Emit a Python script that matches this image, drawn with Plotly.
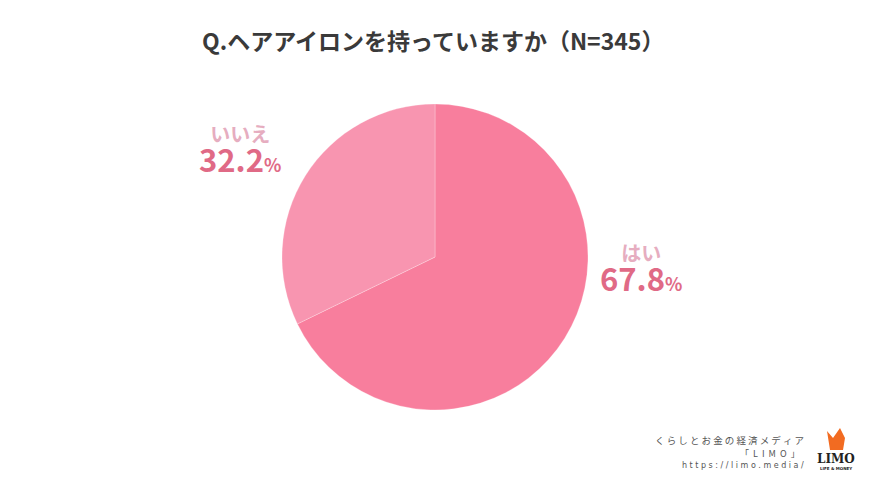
import plotly.graph_objects as go

labels = ["はい", "いいえ"]
values = [67.8, 32.2]
colors = ["#F87E9D", "#F895B0"]
title_text = "Q.ヘアアイロンを持っていますか（N=345）"

fig = go.Figure()
fig.add_trace(go.Pie(
    labels=labels, values=values, sort=False, direction="clockwise", rotation=0,
    marker=dict(colors=colors, line=dict(color="rgba(255,255,255,0.5)", width=0.5)),
    textinfo="none", hoverinfo="label+percent", showlegend=False,
    domain=dict(x=[282/870, 588/870], y=[1-410/489, 1-104/489]),
))

label_color = "#E6ADC0"
pct_color = "#E06A86"

def label_text(lab, v):
    return (f"<span style='font-size:20px;color:{label_color}'><b>{lab}</b></span><br>"
            f"<span style='font-size:31px'><b>{v}</b></span><span style='font-size:18px'><b>%</b></span>")

positions = {"はい": (641, 269), "いいえ": (240, 150)}
for lab, val in zip(labels, values):
    px, py = positions[lab]
    fig.add_annotation(x=px/870, y=1-py/489, xref="paper", yref="paper", text=label_text(lab, val),
                       showarrow=False, align="center",
                       font=dict(size=23, color=pct_color, family="Noto Sans CJK JP"),
                       xanchor="center", yanchor="middle")

# title
fig.add_annotation(x=433/870, y=1-40/489, xref="paper", yref="paper", text="<b>"+title_text+"</b>",
                   showarrow=False, font=dict(size=23, color="#3A3A3A", family="Noto Sans CJK JP"),
                   xanchor="center", yanchor="middle")

# footer
footer_font = dict(size=9, color="#555555", family="Noto Sans CJK JP")
fig.add_annotation(x=806/870, y=1-440/489, xref="paper", yref="paper",
                   text=" ".join("くらしとお金の経済メディア"), showarrow=False,
                   font=dict(size=9.5, color="#555555", family="Noto Sans CJK JP"),
                   xanchor="right", yanchor="middle")
fig.add_annotation(x=802/870, y=1-453/489, xref="paper", yref="paper",
                   text="  ".join("「LIMO」"), showarrow=False, font=footer_font,
                   xanchor="right", yanchor="middle")
fig.add_annotation(x=806/870, y=1-465/489, xref="paper", yref="paper",
                   text=" ".join("https://limo.media/"), showarrow=False,
                   font=dict(size=8, color="#555555", family="DejaVu Sans"),
                   xanchor="right", yanchor="middle")

# logo
fig.add_shape(type="path", xref="paper", yref="paper",
              path=f"M {827/870} {1-431/489} L {833/870} {1-438/489} L {840/870} {1-428/489} L {845/870} {1-438/489} L {843/870} {1-450/489} L {830/870} {1-450/489} Z",
              fillcolor="#F26B21", line=dict(width=0))
fig.add_annotation(x=836/870, y=1-459/489, xref="paper", yref="paper", text="<b>LIMO</b>",
                   showarrow=False, font=dict(size=12, color="#222222", family="DejaVu Serif"),
                   xanchor="center", yanchor="middle")
fig.add_annotation(x=836/870, y=1-468/489, xref="paper", yref="paper", text="<b>LIFE & MONEY</b>",
                   showarrow=False, font=dict(size=4, color="#222222", family="DejaVu Sans"),
                   xanchor="center", yanchor="middle")

fig.update_layout(width=870, height=489, margin=dict(l=0, r=0, t=0, b=0),
                  paper_bgcolor="white", plot_bgcolor="white")
fig.write_html("out.html", config={"displayModeBar": False},
               post_script="document.body.style.margin='0';document.body.style.overflow='hidden';")
